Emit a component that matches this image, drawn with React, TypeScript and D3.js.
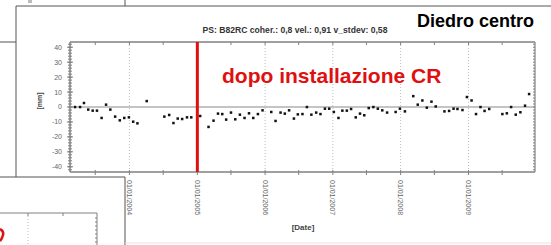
import React from 'react';
import * as d3 from 'd3';

// PS time series (displacement in mm)
const dates = [
  '2003-03-14', '2003-04-10', '2003-05-01', '2003-05-24', '2003-06-17', '2003-07-10', '2003-08-04',
  '2003-08-28', '2003-09-20', '2003-10-16', '2003-11-10', '2003-12-04', '2003-12-29', '2004-01-21',
  '2004-02-13', '2004-04-03', '2004-07-07', '2004-08-02', '2004-08-25', '2004-09-17', '2004-10-11',
  '2004-11-06', '2004-11-29', '2005-01-16', '2005-03-02', '2005-03-29', '2005-04-22', '2005-05-15',
  '2005-06-05', '2005-07-01', '2005-07-24', '2005-08-18', '2005-09-12', '2005-10-06', '2005-10-29',
  '2005-11-23', '2005-12-18', '2006-02-03', '2006-02-26', '2006-03-25', '2006-04-17', '2006-05-10',
  '2006-06-05', '2006-06-26', '2006-07-21', '2006-08-14', '2006-09-07', '2006-10-03', '2006-10-26',
  '2006-11-19', '2006-12-12', '2007-01-06', '2007-01-31', '2007-02-21', '2007-03-17', '2007-04-09',
  '2007-05-04', '2007-05-27', '2007-06-19', '2007-07-13', '2007-08-07', '2007-08-31', '2007-09-24',
  '2007-10-20', '2007-12-05', '2007-12-28', '2008-01-24', '2008-03-09', '2008-04-02', '2008-04-27',
  '2008-05-21', '2008-06-15', '2008-07-08', '2008-08-24', '2008-09-18', '2008-10-12', '2008-11-02',
  '2008-11-29', '2008-12-23', '2009-01-17', '2009-02-10', '2009-03-06', '2009-03-28', '2009-04-22',
  '2009-07-02', '2009-07-26', '2009-08-18', '2009-09-12', '2009-10-07', '2009-11-01', '2009-11-23',
];
const values = [
  0, 0, 2.7, -1.7, -2.4, -2.4, -7.3,
  1.6, -1.7, -6.4, -8.9, -7.3, -6.9, -9.8,
  -10.9, 4, -6.4, -5.3, -10.7, -7.7, -8,
  -6.9, -6.9, -6, -13.3, -9.1, -4.4, -4.7,
  -8.4, -3.7, -8.2, -5.1, -7.3, -4.2, -7.3,
  -4.7, -2.2, -3.3, -9.3, -3.7, -4.4, -2.2,
  -7.7, -4.9, -4.7, 0, -5.1, -3.7, -4.7,
  -1.1, -1.1, -3.3, -7.3, -2.4, -2.4, -1.3,
  -6.9, -4.4, -5.5, -0.7, 0, -1.1, -2.2,
  -3.7, -3.3, -1.1, -2.9, 7.3, 1.6, 4.4,
  -0.4, 3.6, 0.4, -2.9, -2.6, -1.1, -1.3,
  -2, 6.7, 4.4, -4.7, 0, -2.6, -1.3,
  -4.7, -4.2, 0, -5.1, -3.5, 0.9, 8.7,
];
const yearTicks = ['2004-01-01', '2005-01-01', '2006-01-01', '2007-01-01', '2008-01-01', '2009-01-01'];
const halfYearTicks = ['2003-07-01', '2004-07-01', '2005-07-01', '2006-07-01', '2007-07-01', '2008-07-01', '2009-07-01'];
const yTicks = [40, 30, 20, 10, 0, -10, -20, -30, -40];
const crDate = '2005-01-01';

const W = 551;
const H = 245;
const L = 70, R = 535, T = 42, B = 172;
const parse = d3.timeParse('%Y-%m-%d');
const fmt = d3.timeFormat('%d/%m/%Y');

export default function App() {
  const x = d3.scaleTime()
    .domain([new Date(2003, 1, 15), new Date(2009, 11, 25)])
    .range([L, R]);
  const y = d3.scaleLinear().domain([-43.5, 43.5]).range([B, T]);
  const minorY = d3.range(-42, 43, 2);
  const axisCol = '#808080';
  const frame = '#555';

  return (
    <svg width={W} height={H} style={{ position: 'absolute', left: 0, top: 0, background: '#fff' }}
      fontFamily="Arial, 'Liberation Sans', sans-serif">
      {/* slide frame pieces */}
      <line x1={16} y1={6} x2={W} y2={6} stroke={frame} />
      <line x1={125} y1={0} x2={125} y2={6} stroke={frame} />
      <line x1={16} y1={6} x2={16} y2={177} stroke={frame} />
      <line x1={0} y1={42} x2={16} y2={42} stroke={frame} />
      <line x1={0} y1={177} x2={125} y2={177} stroke={frame} />
      <line x1={125} y1={177} x2={125} y2={H} stroke={frame} />
      <line x1={125} y1={243} x2={W} y2={243} stroke="#e4e4e4" />
      <rect x={28} y={0} width={4} height={3} fill="#bbb" />

      {/* partial inset plot, bottom left (cut off by the slide) */}
      <line x1={0} y1={213} x2={97} y2={213} stroke={axisCol} />
      <line x1={97} y1={213} x2={97} y2={H} stroke={axisCol} />
      <line x1={28} y1={213} x2={28} y2={H} stroke="#bbb" strokeDasharray="1,2" />
      <line x1={28} y1={213} x2={28} y2={216} stroke={axisCol} />
      <line x1={63} y1={213} x2={63} y2={216} stroke={axisCol} />
      {d3.range(218, H, 4).map(v => (
        <line key={'in' + v} x1={95} y1={v} x2={97} y2={v} stroke={axisCol} />
      ))}
      <path d="M0,229 Q4,231 3,235 Q2,239 0,241" fill="none" stroke="#e01010" strokeWidth={2.5} />

      {/* gridlines */}
      {yearTicks.map(d => (
        <line key={'g' + d} x1={x(parse(d)!)} x2={x(parse(d)!)} y1={T} y2={B}
          stroke="#bdbdbd" strokeDasharray="1,2" />
      ))}
      <line x1={L} x2={R} y1={y(0)} y2={y(0)} stroke="#8a8a8a" strokeWidth={1.2} />

      {/* axes box */}
      <line x1={L} x2={R} y1={T} y2={T} stroke={axisCol} strokeWidth={1.5} />
      <line x1={L} x2={R} y1={B} y2={B} stroke={axisCol} strokeWidth={1.5} />
      <line x1={L} x2={L} y1={T} y2={B} stroke={axisCol} strokeWidth={1.5} />
      <line x1={R} x2={R} y1={T} y2={B} stroke={axisCol} strokeWidth={1.2} />

      {/* y ticks */}
      {minorY.map(v => (
        <g key={'my' + v}>
          <line x1={L - 2} x2={L + 2} y1={y(v)} y2={y(v)} stroke={axisCol} />
          <line x1={R - 2} x2={R} y1={y(v)} y2={y(v)} stroke={axisCol} />
        </g>
      ))}
      {yTicks.map(v => (
        <g key={'y' + v}>
          <line x1={L - 3} x2={L + 3} y1={y(v)} y2={y(v)} stroke={axisCol} />
          <text x={62} y={y(v)} dy="0.35em" textAnchor="end" fontSize={7} fill="#666">{v}</text>
        </g>
      ))}
      <text transform={`translate(42,${y(4)}) rotate(-90)`} textAnchor="middle" fontSize={7}
        fontWeight="bold" fill="#444">[mm]</text>

      {/* x ticks */}
      {halfYearTicks.concat(yearTicks).map(d => {
        const px = x(parse(d)!);
        return (
          <g key={'x' + d}>
            <line x1={px} x2={px} y1={B - 2} y2={B + 3} stroke={axisCol} />
            <line x1={px} x2={px} y1={T} y2={T + 3} stroke={axisCol} />
          </g>
        );
      })}
      {yearTicks.map(d => {
        const px = x(parse(d)!);
        return (
          <text key={'xl' + d} transform={`translate(${px},180) rotate(90)`} dy="0.35em"
            fontSize={7} fill="#666">{fmt(parse(d)!)}</text>
        );
      })}
      <text x={303} y={230} textAnchor="middle" fontSize={8} fontWeight="bold" fill="#444">[Date]</text>

      {/* titles */}
      <text x={295} y={33} textAnchor="middle" fontSize={8.6} fontWeight="bold" fill="#333">
        PS: B82RC coher.: 0,8 vel.: 0,91 v_stdev: 0,58
      </text>
      <text x={417} y={27} fontSize={18} fontWeight="bold" fill="#000">Diedro centro</text>

      {/* CR installation marker */}
      <line x1={x(parse(crDate)!)} x2={x(parse(crDate)!)} y1={T} y2={B} stroke="#e01010" strokeWidth={3} />
      <text x={222} y={83} fontSize={21} fontWeight="bold" fill="#e01010">dopo installazione CR</text>

      {/* points */}
      {dates.map((d, i) => (
        <rect key={'p' + i} x={x(parse(d)!) - 1.2} y={y(values[i]) - 1.2} width={2.5} height={2.5} fill="#111" />
      ))}
    </svg>
  );
}
